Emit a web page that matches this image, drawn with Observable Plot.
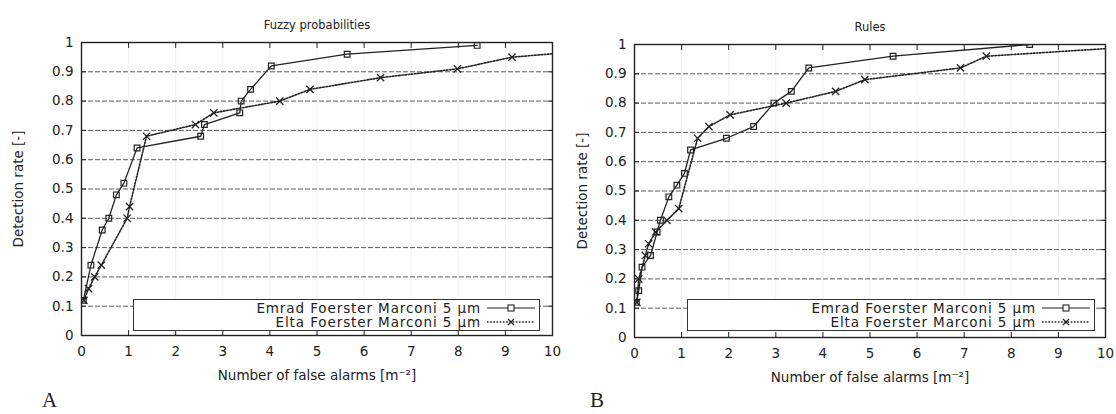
<!DOCTYPE html>
<html><head><meta charset="utf-8">
<script src="https://cdn.jsdelivr.net/npm/d3@7"></script>
<script src="https://cdn.jsdelivr.net/npm/@observablehq/plot@0.6"></script>
<style>
body{margin:0;background:#fff;}
#wrap{position:relative;width:1116px;height:414px;overflow:hidden;font-family:"DejaVu Sans",sans-serif;color:#222;}
.panel{position:absolute;top:0;overflow:visible;}
.legend{position:absolute;border:1.4px solid #333;background:#fff;box-sizing:border-box;font-size:13.5px;letter-spacing:0.9px;}
.row{position:absolute;right:0;height:14px;display:flex;align-items:center;}
.row span{margin-right:4px;white-space:nowrap;}
.tag{position:absolute;font-family:"Liberation Serif",serif;font-size:21px;color:#222;}
</style></head>
<body><div id="wrap"></div>
<script>
// ---- data ----
const xTicks = [0,1,2,3,4,5,6,7,8,9,10];
const yTicks = [0,0.1,0.2,0.3,0.4,0.5,0.6,0.7,0.8,0.9,1];
const panelTitles = ["Fuzzy probabilities","Rules"];
const panelTags = ["A","B"];
const seriesNames = ["Emrad Foerster Marconi 5 µm","Elta Foerster Marconi 5 µm"];
const xLabel = "Number of false alarms [m⁻²]";
const yLabel = "Detection rate [-]";

// Panel A: Fuzzy probabilities
const emradFuzzyX = [0.04,0.2,0.44,0.58,0.74,0.9,1.18,2.53,2.61,3.36,3.39,3.59,4.03,5.64,8.4];
const emradFuzzyY = [0.12,0.24,0.36,0.40,0.48,0.52,0.64,0.68,0.72,0.76,0.80,0.84,0.92,0.96,0.99];
const eltaFuzzyX = [0.05,0.15,0.28,0.42,0.97,1.02,1.38,2.42,2.81,4.21,4.85,6.35,7.98,9.14,10.8];
const eltaFuzzyY = [0.12,0.16,0.20,0.24,0.40,0.44,0.68,0.72,0.76,0.80,0.84,0.88,0.91,0.95,0.972];

// Panel B: Rules
const emradRulesX = [0.04,0.09,0.16,0.34,0.48,0.55,0.73,0.9,1.06,1.19,1.95,2.53,2.96,3.33,3.70,5.49,8.39];
const emradRulesY = [0.12,0.16,0.24,0.28,0.36,0.40,0.48,0.52,0.56,0.64,0.68,0.72,0.80,0.84,0.92,0.96,1.0];
const eltaRulesX = [0.05,0.09,0.23,0.30,0.45,0.69,0.94,1.34,1.58,2.03,3.22,4.27,4.89,6.92,7.47,10.8];
const eltaRulesY = [0.12,0.20,0.28,0.32,0.36,0.40,0.44,0.68,0.72,0.76,0.80,0.84,0.88,0.92,0.96,0.994];

const ink = "#222";

function pts(xs, ys){ return xs.map((x,i)=>({x, y: ys[i]})); }
const yFmt = d => (d === 0 || d === 1) ? String(d) : d.toFixed(1);

function panel({emX, emY, elX, elY, title, width, mL, mR, mT, mB, yLabelOffset}) {
  const em = pts(emX, emY), el = pts(elX, elY);
  const blank = () => "";
  return Plot.plot({
    width, height: 414,
    marginLeft: mL, marginRight: mR, marginTop: mT, marginBottom: mB,
    style: {fontFamily: "DejaVu Sans, sans-serif", fontSize: "12px", color: ink, background: "transparent", overflow: "visible"},
    x: {domain: [0,10]},
    y: {domain: [0,1]},
    marks: [
      Plot.gridX(xTicks, {stroke: "#000", strokeOpacity: 0.06}),
      Plot.gridY(yTicks.filter(d => d > 0 && d < 1), {stroke: "#333", strokeOpacity: 0.8, strokeDasharray: "5,2"}),
      Plot.axisX(xTicks, {anchor: "bottom", tickSize: 0, tickPadding: 11, fontSize: 13.5, label: xLabel, labelAnchor: "center", labelArrow: "none", labelOffset: 44}),
      Plot.axisX(xTicks, {anchor: "bottom", tickSize: -5, tickFormat: blank, label: null, stroke: ink}),
      Plot.axisX(xTicks, {anchor: "top", tickSize: -5, tickFormat: blank, label: null, stroke: ink}),
      Plot.axisY(yTicks, {anchor: "left", tickSize: 0, tickPadding: 8, fontSize: 13.5, tickFormat: yFmt, label: yLabel, labelAnchor: "center", labelArrow: "none", labelOffset: yLabelOffset}),
      Plot.axisY(yTicks, {anchor: "left", tickSize: -5, tickFormat: blank, label: null, stroke: ink}),
      Plot.axisY(yTicks, {anchor: "right", tickSize: -5, tickFormat: blank, label: null, stroke: ink}),
      Plot.line(el, {x: "x", y: "y", stroke: ink, strokeWidth: 1.6, strokeDasharray: "1.6,1.6", clip: true}),
      Plot.dot(el, {x: "x", y: "y", symbol: "times", r: 3.4, stroke: ink, strokeWidth: 1.3, clip: true}),
      Plot.line(em, {x: "x", y: "y", stroke: ink, strokeWidth: 1.3, clip: true}),
      Plot.dot(em, {x: "x", y: "y", symbol: "square", r: 3.2, fill: "none", stroke: ink, strokeWidth: 1.2, clip: true}),
      Plot.frame({stroke: ink, strokeWidth: 1.4}),
      Plot.text([title], {frameAnchor: "top", dy: -22, fontSize: 11.5, fill: ink})
    ]
  });
}

const wrap = document.getElementById("wrap");

const configs = [
  {emX: emradFuzzyX, emY: emradFuzzyY, elX: eltaFuzzyX, elY: eltaFuzzyY, title: panelTitles[0], width: 572, mL: 81, mR: 20, mT: 42, mB: 79, yLabelOffset: 68, left: 0, legend: {left: 133, top: 299, width: 407, height: 32}, tag: {left: 42, top: 388}},
  {emX: emradRulesX, emY: emradRulesY, elX: eltaRulesX, elY: eltaRulesY, title: panelTitles[1], width: 558, mL: 76, mR: 11, mT: 44, mB: 77, yLabelOffset: 57, left: 558, legend: {left: 687, top: 299, width: 408, height: 32}, tag: {left: 590, top: 388}}
];

configs.forEach((c, i) => {
  const svg = panel(c);
  svg.classList.add("panel");
  svg.style.left = c.left + "px";
  wrap.appendChild(svg);

  const lg = document.createElement("div");
  lg.className = "legend";
  Object.assign(lg.style, {left: c.legend.left + "px", top: c.legend.top + "px", width: c.legend.width + "px", height: c.legend.height + "px"});
  seriesNames.forEach((name, k) => {
    const row = document.createElement("div");
    row.className = "row";
    row.style.top = (k === 0 ? 1 : 15) + "px";
    const sp = document.createElement("span");
    sp.textContent = name;
    row.appendChild(sp);
    const s = d3.create("svg").attr("width", 54).attr("height", 14);
    s.append("line").attr("x1", 2).attr("x2", 50).attr("y1", 7).attr("y2", 7)
      .attr("stroke", ink).attr("stroke-width", k === 0 ? 1.2 : 1.5).attr("stroke-dasharray", k === 0 ? null : "1.6,1.6");
    if (k === 0) s.append("rect").attr("x", 23).attr("y", 4).attr("width", 6).attr("height", 6).attr("fill", "#fff").attr("stroke", ink).attr("stroke-width", 1.1);
    else s.append("path").attr("d", "M23,4L29,10M29,4L23,10").attr("stroke", ink).attr("stroke-width", 1.3);
    row.appendChild(s.node());
    lg.appendChild(row);
  });
  wrap.appendChild(lg);

  const tg = document.createElement("div");
  tg.className = "tag";
  tg.textContent = panelTags[i];
  Object.assign(tg.style, {left: c.tag.left + "px", top: c.tag.top + "px"});
  wrap.appendChild(tg);
});
</script>
</body></html>
